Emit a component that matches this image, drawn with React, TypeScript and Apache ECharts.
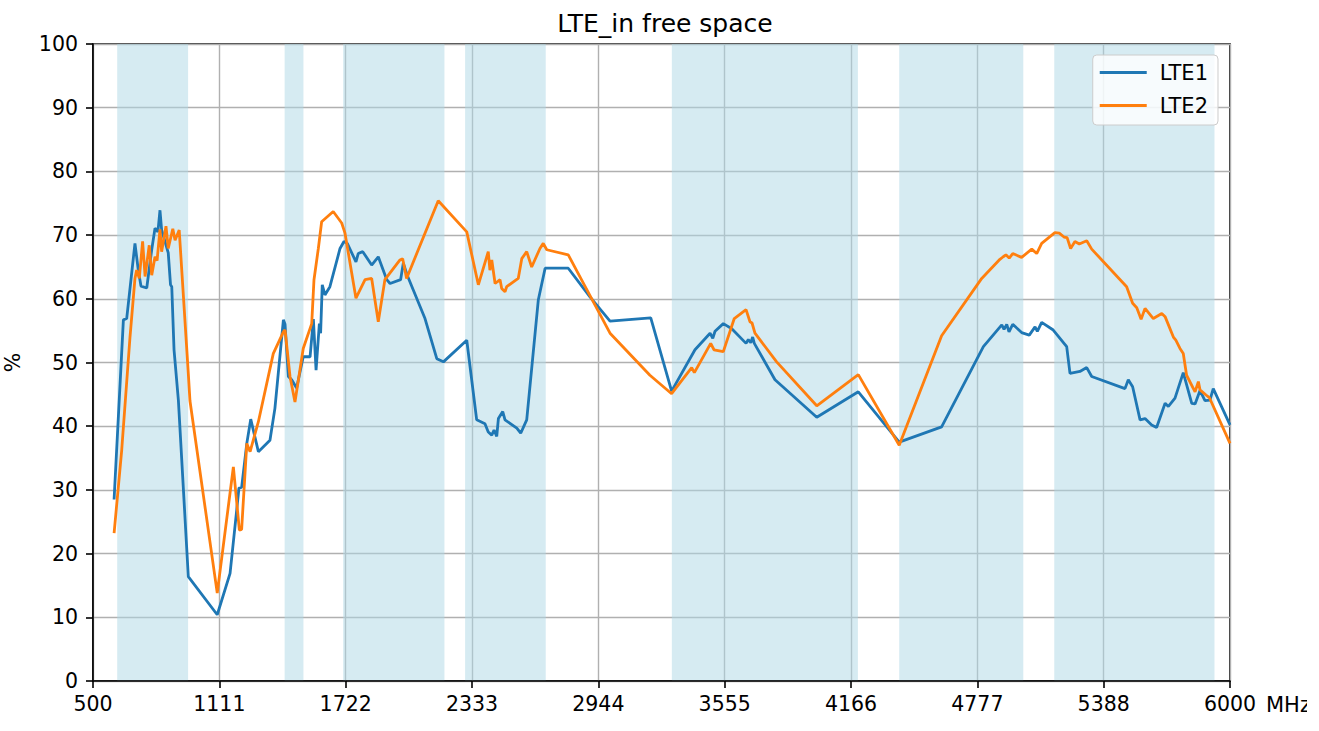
import React, { useEffect, useRef } from "react";
import * as echarts from "echarts";

const TITLE = "LTE_in free space";
const X_MIN = 500;
const X_MAX = 6000;
const X_TICK_COUNT = 9;
const Y_MIN = 0;
const Y_MAX = 100;
const Y_INTERVAL = 10;

const BANDS: [number, number][] = [
  [617, 960],
  [1427, 1518],
  [1710, 2200],
  [2300, 2690],
  [3300, 4200],
  [4400, 5000],
  [5150, 5925],
];

const LTE1_MHZ = [
  602, 647, 663, 703, 719, 732, 760, 784, 800, 814, 824, 832, 848, 864, 875, 881, 892, 913, 961, 1101,
  1163, 1195, 1206, 1219, 1244, 1263, 1300, 1356, 1380, 1421, 1429, 1445, 1461, 1485, 1517, 1550, 1566, 1579, 1595, 1601,
  1609, 1622, 1646, 1695, 1714, 1730, 1772, 1783, 1805, 1848, 1880, 1921, 1937, 1988, 2001, 2020, 2106, 2163, 2195, 2308,
  2356, 2396, 2412, 2429, 2440, 2453, 2461, 2482, 2493, 2550, 2569, 2598, 2654, 2687, 2799, 2904, 3001, 3198, 3299, 3412,
  3485, 3498, 3509, 3549, 3590, 3659, 3670, 3682, 3691, 3699, 3799, 4001, 4202, 4400, 4605, 4807, 4896, 4907, 4920, 4931,
  4949, 4992, 5029, 5057, 5068, 5089, 5145, 5210, 5226, 5274, 5307, 5331, 5492, 5508, 5529, 5565, 5589, 5621, 5645, 5686,
  5702, 5734, 5774, 5815, 5831, 5855, 5879, 5903, 5919, 6000,
];
const LTE1_PCT = [
  28.5, 56.7, 56.9, 68.7, 64.5, 62.0, 61.7, 67.7, 71.1, 70.5, 73.9, 70.8, 69.0, 67.2, 62.2, 61.9, 52.0, 44.1, 16.4, 10.4,
  16.9, 26.8, 30.3, 30.4, 37.3, 41.1, 36.0, 37.8, 42.8, 56.7, 56.0, 47.8, 47.3, 46.0, 50.9, 50.9, 56.8, 48.8, 56.1, 54.6,
  62.2, 60.6, 61.9, 67.9, 69.0, 68.7, 65.8, 67.1, 67.4, 65.3, 66.6, 63.0, 62.4, 63.0, 65.6, 63.7, 56.9, 50.6, 50.1, 53.5,
  41.0, 40.4, 39.1, 38.6, 39.4, 38.4, 41.2, 42.3, 41.0, 39.7, 38.9, 41.0, 59.8, 64.8, 64.8, 60.3, 56.5, 57.0, 45.5, 52.0,
  54.6, 53.8, 54.9, 56.1, 55.3, 53.0, 53.6, 53.1, 54.0, 53.0, 47.3, 41.4, 45.4, 37.5, 39.9, 52.5, 55.9, 55.2, 56.0, 54.8,
  56.0, 54.7, 54.3, 55.6, 54.9, 56.3, 55.1, 52.5, 48.3, 48.6, 49.2, 47.8, 45.9, 47.3, 46.2, 41.0, 41.2, 40.2, 39.8, 43.6,
  43.1, 44.4, 48.4, 43.6, 43.5, 45.6, 44.0, 44.1, 45.9, 40.2,
];

const LTE2_MHZ = [
  602, 639, 679, 703, 711, 724, 740, 752, 772, 784, 800, 810, 824, 832, 853, 864, 886, 897, 917, 961,
  969, 1101, 1179, 1208, 1219, 1244, 1260, 1300, 1372, 1421, 1429, 1453, 1477, 1517, 1558, 1569, 1590, 1606, 1662, 1703,
  1719, 1772, 1816, 1848, 1880, 1912, 1985, 1998, 2017, 2170, 2308, 2364, 2412, 2420, 2429, 2445, 2469, 2477, 2493, 2501,
  2557, 2574, 2598, 2622, 2662, 2678, 2695, 2799, 3001, 3194, 3299, 3396, 3409, 3488, 3504, 3549, 3602, 3659, 3678, 3688,
  3702, 3807, 4001, 4202, 4400, 4605, 4799, 4887, 4903, 4916, 4932, 4949, 4992, 5041, 5065, 5089, 5153, 5174, 5197, 5212,
  5229, 5250, 5271, 5307, 5331, 5500, 5529, 5549, 5570, 5589, 5629, 5670, 5686, 5726, 5738, 5758, 5774, 5790, 5831, 5847,
  5855, 5884, 5900, 6000,
];
const LTE2_PCT = [
  23.2, 36.3, 54.0, 63.2, 64.5, 63.2, 69.0, 63.5, 68.4, 63.7, 66.6, 66.0, 70.9, 67.4, 71.4, 67.9, 71.0, 69.2, 70.8, 48.3,
  44.0, 13.8, 33.6, 23.7, 23.8, 37.3, 36.0, 40.7, 51.4, 54.8, 55.1, 47.8, 43.8, 52.2, 56.1, 63.0, 67.9, 72.1, 73.7, 71.9,
  70.3, 60.1, 63.0, 63.2, 56.4, 63.0, 66.1, 66.3, 63.2, 75.4, 70.5, 62.2, 67.4, 64.5, 66.1, 62.4, 63.0, 61.6, 61.1, 61.9,
  63.2, 66.3, 67.4, 65.0, 67.9, 68.7, 67.7, 66.9, 54.6, 48.0, 45.1, 49.2, 48.4, 53.0, 52.0, 51.7, 56.9, 58.3, 56.4, 56.2,
  54.6, 50.1, 43.2, 48.1, 37.0, 54.2, 63.2, 66.2, 66.6, 66.9, 66.4, 67.1, 66.5, 67.8, 67.1, 68.7, 70.4, 70.3, 69.7, 69.6,
  67.9, 69.0, 68.6, 69.1, 67.8, 61.9, 59.3, 58.6, 56.8, 58.5, 56.9, 57.7, 57.2, 54.0, 53.5, 52.2, 51.4, 48.0, 45.4, 47.0,
  45.7, 44.9, 44.5, 37.3,
];

const SERIES_NAMES = ["LTE1", "LTE2"];
const COLORS = ["#1f77b4", "#ff7f0e"];
const X_UNIT = "MHz";
const Y_LABEL = "%";

const FONT = "DejaVu Sans";

function toPairs(xs: number[], ys: number[]) {
  return xs.map((x, i) => [x - X_MIN, ys[i]]);
}

export default function App() {
  const ref = useRef<HTMLDivElement>(null);

  useEffect(() => {
    document.body.style.margin = "0";
    if (!ref.current) return;
    const chart = echarts.init(ref.current, undefined, { renderer: "svg" });
    const span = X_MAX - X_MIN;
    const gridColor = "#b0b0b0";

    const option: any = {
      animation: false,
      backgroundColor: "#ffffff",
      textStyle: { fontFamily: FONT },
      title: {
        text: TITLE,
        left: 660,
        textAlign: "center",
        top: 6,
        textStyle: { fontFamily: FONT, fontSize: 25, fontWeight: "normal", color: "#000" },
      },
      grid: {
        left: 93,
        right: 89,
        top: 44,
        bottom: 50,
        outerBoundsMode: "none",
        containLabel: false,
        show: true,
        borderColor: "#000",
        borderWidth: 1.6,
        backgroundColor: "transparent",
      },
      legend: {
        orient: "vertical",
        right: 101,
        top: 55,
        data: SERIES_NAMES,
        icon: "rect",
        itemWidth: 47,
        itemHeight: 3,
        itemGap: 12,
        padding: [7, 10, 9, 7],
        backgroundColor: "rgba(255,255,255,0.8)",
        borderColor: "#cccccc",
        borderWidth: 1,
        borderRadius: 4,
        textStyle: { fontFamily: FONT, fontSize: 21, color: "#000", lineHeight: 20, padding: [0, 0, 0, 8] },
      },
      xAxis: {
        type: "value",
        min: 0,
        max: span,
        interval: span / X_TICK_COUNT,
        z: 1,
        axisLine: { show: true, lineStyle: { color: "#000", width: 1.6 } },
        axisTick: { show: true, length: 7, lineStyle: { color: "#000", width: 1.6 } },
        axisLabel: {
          show: true,
          showMaxLabel: true,
          showMinLabel: true,
          margin: 12,
          fontFamily: FONT,
          fontSize: 20.5,
          color: "#000",
          formatter: (v: number) => String(Math.floor(v + X_MIN + 1e-6)),
        },
        splitLine: { show: true, lineStyle: { color: gridColor, width: 1.4 } },
      },
      yAxis: {
        type: "value",
        min: Y_MIN,
        max: Y_MAX,
        interval: Y_INTERVAL,
        z: 1,
        name: Y_LABEL,
        nameLocation: "middle",
        nameGap: 70,
        nameRotate: 90,
        nameTextStyle: { fontFamily: FONT, fontSize: 20.5, color: "#000" },
        axisLine: { show: true, lineStyle: { color: "#000", width: 1.6 } },
        axisTick: { show: true, length: 7, lineStyle: { color: "#000", width: 1.6 } },
        axisLabel: { margin: 15, fontFamily: FONT, fontSize: 20.5, color: "#000" },
        splitLine: { show: true, lineStyle: { color: gridColor, width: 1.4 } },
      },
      series: [
        {
          name: "bands",
          type: "line",
          data: [],
          z: 0,
          silent: true,
          markArea: {
            silent: true,
            itemStyle: { color: "rgba(173,216,230,0.5)" },
            data: BANDS.map(([a, b]) => [{ xAxis: a - X_MIN }, { xAxis: b - X_MIN }]),
          },
        },
        {
          name: SERIES_NAMES[0],
          type: "line",
          data: toPairs(LTE1_MHZ, LTE1_PCT),
          symbol: "none",
          z: 3,
          color: COLORS[0],
          lineStyle: { color: COLORS[0], width: 2.8 },
        },
        {
          name: SERIES_NAMES[1],
          type: "line",
          data: toPairs(LTE2_MHZ, LTE2_PCT),
          symbol: "none",
          z: 4,
          color: COLORS[1],
          lineStyle: { color: COLORS[1], width: 2.8 },
        },
      ],
      graphic: [
        {
          type: "text",
          left: 1266,
          top: 694,
          z: 10,
          style: { text: X_UNIT, fontFamily: FONT, fontSize: 21, fill: "#000" },
        },
        {
          type: "rect",
          left: 1307,
          top: 685,
          z: 11,
          shape: { width: 12, height: 40 },
          style: { fill: "#ffffff" },
          silent: true,
        },
      ],
    };
    chart.setOption(option);
    return () => chart.dispose();
  }, []);

  return <div ref={ref} style={{ width: 1319, height: 731 }} />;
}
